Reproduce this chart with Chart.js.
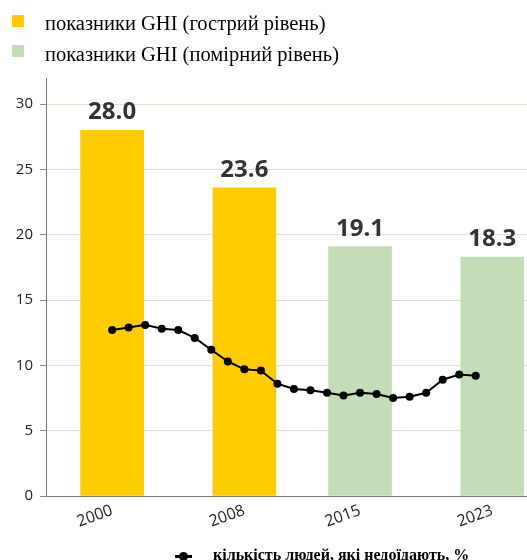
<!DOCTYPE html>
<html lang="uk">
<head>
<meta charset="utf-8">
<script src="https://cdn.jsdelivr.net/npm/chart.js@4.4.1/dist/chart.umd.min.js"></script>
<style>
    html, body { margin: 0; padding: 0; background: #fff; }
    #wrap { position: relative; width: 527px; height: 560px; overflow: hidden; }
    #grafico { position: absolute; left: 0; top: 0; }
    .leg { position: absolute; font-family: "Liberation Serif", "Times New Roman", serif; color: #000; white-space: nowrap; }
    .leg-top { font-size: 20.5px; line-height: 20px; left: 45px; }
    .sq { position: absolute; width: 12px; height: 12px; left: 12px; }
    .leg-bottom { font-size: 16px; line-height: 16px; font-weight: bold; left: 213px; top: 547px; }
    .mk-line { position: absolute; left: 175px; top: 555px; width: 17px; height: 3px; background: #000; }
    .mk-dot { position: absolute; left: 179px; top: 552px; width: 9px; height: 9px; border-radius: 50%; background: #000; }
</style>
</head>
<body>
<div id="wrap">
    <canvas id="grafico" width="527" height="560"></canvas>

    <div class="sq" style="top:15px;background:#ffcc00"></div>
    <div class="leg leg-top" style="top:13px">показники GHI (гострий рівень)</div>
    <div class="sq" style="top:45px;background:#c4ddb7"></div>
    <div class="leg leg-top" style="top:44px">показники GHI (помірний рівень)</div>

    <div class="mk-line"></div>
    <div class="mk-dot"></div>
    <div class="leg leg-bottom">кількість людей, які недоїдають, %</div>
</div>

<script>
// ---- dados ----
const anosGHI = [2000, 2008, 2015, 2023];
const valoresGHI = [28.0, 23.6, 19.1, 18.3];
const coresGHI = ['#ffcc00', '#ffcc00', '#c4ddb7', '#c4ddb7'];

const anosFome = [2000, 2001, 2002, 2003, 2004, 2005, 2006, 2007, 2008, 2009, 2010, 2011,
    2012, 2013, 2014, 2015, 2016, 2017, 2018, 2019, 2020, 2021, 2022];
const valoresFome = [12.7, 12.9, 13.1, 12.8, 12.7, 12.1, 11.2, 10.3, 9.7, 9.6, 8.6, 8.2,
    8.1, 7.9, 7.7, 7.9, 7.8, 7.5, 7.6, 7.9, 8.9, 9.3, 9.2];

const ticksY = [0, 5, 10, 15, 20, 25, 30];

// rótulos em cima das barras
const rotulosBarras = {
    id: 'rotulosBarras',
    afterDatasetsDraw(chart) {
        const meta = chart.getDatasetMeta(0);
        const ctx = chart.ctx;
        ctx.save();
        ctx.font = 'bold 24px "Open Sans", sans-serif';
        ctx.fillStyle = '#333';
        ctx.textAlign = 'center';
        ctx.textBaseline = 'alphabetic';
        meta.data.forEach((bar, i) => {
            ctx.fillText(valoresGHI[i].toFixed(1), bar.x, bar.y - 11);
        });
        ctx.restore();
    },
};

new Chart(document.getElementById('grafico'), {
    type: 'bar',
    data: {
        datasets: [
            {
                type: 'bar',
                data: anosGHI.map((a, i) => ({ x: a, y: valoresGHI[i] })),
                backgroundColor: coresGHI,
                barThickness: 63,
                order: 1,
            },
            {
                type: 'line',
                data: anosFome.map((a, i) => ({ x: a, y: valoresFome[i] })),
                borderColor: '#000',
                backgroundColor: '#000',
                borderWidth: 2,
                pointRadius: 4,
                pointBorderWidth: 0,
                tension: 0,
                order: 0,
            },
        ],
    },
    options: {
        responsive: false,
        animation: false,
        events: [],
        layout: { autoPadding: false, padding: { top: 78, right: 0, left: 0, bottom: 0 } },
        plugins: { legend: { display: false }, tooltip: { enabled: false } },
        scales: {
            x: {
                type: 'linear',
                min: 1996,
                max: 2025.1,
                offset: false,
                afterBuildTicks: (scale) => { scale.ticks = anosGHI.map((v) => ({ value: v })); },
                afterFit: (scale) => {
                    scale.height = 64;
                    scale.paddingLeft = 0;
                    scale.paddingRight = 0;
                },
                ticks: {
                    color: '#222',
                    font: { family: '"Open Sans", sans-serif', size: 16 },
                    minRotation: 20,
                    maxRotation: 20,
                    padding: 5,
                    autoSkip: false,
                    callback: (v) => String(v),
                },
                grid: { display: true, drawOnChartArea: false, drawTicks: false, offset: false },
                border: { color: '#777', width: 1 },
            },
            y: {
                min: 0,
                max: 32,
                afterBuildTicks: (scale) => { scale.ticks = ticksY.map((v) => ({ value: v })); },
                afterFit: (scale) => { scale.width = 46; },
                ticks: { color: '#222', font: { family: '"Open Sans", sans-serif', size: 15 }, padding: 7 },
                grid: { color: '#d6e8cf', lineWidth: 1, tickColor: '#888', tickLength: 6 },
                border: { color: '#777', width: 1 },
            },
        },
    },
    plugins: [rotulosBarras],
});
</script>
</body>
</html>
